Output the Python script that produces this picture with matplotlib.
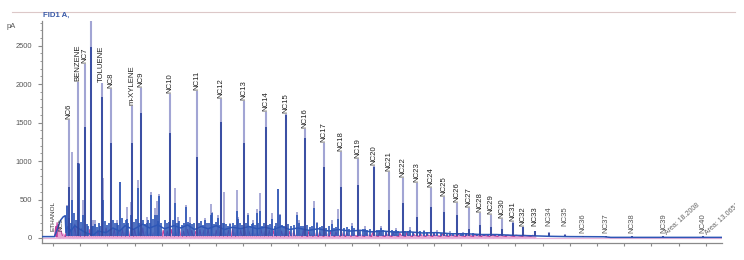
import matplotlib
matplotlib.use("Agg")
import matplotlib.pyplot as plt
from matplotlib.lines import Line2D
from matplotlib.transforms import Bbox
from matplotlib.ticker import MultipleLocator, NullFormatter

plt.rcParams["font.family"] = ["Liberation Sans", "DejaVu Sans"]

# ---------------- data (retention time in min, signal in pA) ----------------
peak_names = ["NC6", "BENZENE", "NC7", "", "TOLUENE", "NC8", "m-XYLENE", "NC9",
              "NC10", "NC11", "NC12", "NC13", "NC14", "NC15", "NC16", "NC17",
              "NC18", "NC19", "NC20", "NC21", "NC22", "NC23", "NC24", "NC25",
              "NC26", "NC27", "NC28", "NC29", "NC30", "NC31", "NC32", "NC33",
              "NC34", "NC35", "NC36", "NC37", "NC38", "NC39", "NC40"]
peak_t = [3.20, 3.82, 4.375, 4.77, 5.58, 6.26, 7.83, 8.49,
          10.60, 12.57, 14.35, 16.04, 17.64, 19.13, 20.55, 21.93,
          23.20, 24.40, 25.58, 26.68, 27.74, 28.79, 29.77, 30.75,
          31.68, 32.59, 33.40, 34.23, 35.01, 35.80, 36.58, 37.46,
          38.47, 39.65, 40.95, 42.64, 44.55, 46.88, 49.82]
peak_light = [1532, 2030, 2260, 2830, 2013, 1935, 1718, 1948,
              1870, 1913, 1805, 1783, 1640, 1610, 1415, 1230,
              1121, 1026, 935, 853, 783, 718, 645, 528,
              450, 385, 329, 299, 247, 212, 139, 95,
              78, 52, 22, 14, 12, 12, 12]
peak_dark = [667, 970, 1440, 2485, 1835, 1234, 1234, 1620,
             1360, 1056, 1511, 1230, 1446, 1600, 1295, 926,
             667, 688, 920, 364, 455, 277, 407, 342,
             299, 120, 169, 147, 113, 190, 139, 95,
             60, 40, 15, 10, 10, 10, 10]

# unlabeled peaks: (time, light height, dark height)
minor_peaks = [(3.05, 430, 420), (3.43, 1120, 500), (3.93, 970, 960), (4.23, 494, 300),
               (4.92, 234, 150), (5.09, 234, 180), (5.70, 780, 500), (6.68, 234, 200),
               (6.93, 731, 731), (7.42, 407, 250), (7.71, 472, 300), (8.27, 753, 645),
               (8.89, 277, 200), (9.21, 602, 560), (9.50, 390, 300), (9.62, 481, 300),
               (9.82, 567, 540), (10.97, 645, 455), (11.17, 277, 200), (11.78, 429, 400),
               (12.07, 277, 200), (13.18, 260, 230), (13.62, 442, 300), (13.71, 342, 330),
               (14.15, 299, 260), (14.60, 602, 200), (15.01, 195, 180), (15.51, 624, 351),
               (15.63, 273, 250), (16.36, 329, 300), (16.73, 234, 200), (17.02, 373, 330),
               (17.22, 589, 350), (18.12, 329, 250), (18.52, 636, 636), (18.69, 316, 300),
               (19.92, 334, 300), (20.09, 234, 200), (21.19, 485, 390), (21.39, 212, 200),
               (22.49, 234, 180), (22.99, 377, 250), (23.96, 195, 150), (24.94, 150, 120),
               (26.12, 160, 130), (27.22, 130, 100), (28.25, 140, 100), (29.28, 110, 90),
               (30.24, 100, 80), (31.19, 90, 70), (32.15, 80, 60)]

# blue baseline / noise band: (time, signal)
blue_trace = [(1.19, 18), (2.10, 18), (2.20, 60), (2.35, 130), (2.55, 230), (2.75, 275),
              (2.90, 290), (2.95, 70), (3.1, 150), (3.3, 90), (3.6, 160), (4.0, 110),
              (4.5, 60), (5.0, 40), (5.3, 90), (5.9, 70), (6.4, 130), (6.9, 90),
              (7.3, 160), (7.9, 110), (8.6, 180), (9.1, 130), (9.7, 170), (10.2, 120),
              (10.9, 160), (11.4, 130), (11.9, 170), (12.4, 110), (12.9, 150), (13.4, 120),
              (14.0, 160), (14.6, 110), (15.2, 140), (15.8, 120), (16.4, 150), (17.0, 120),
              (17.6, 140), (18.2, 110), (18.8, 150), (19.4, 110), (20.0, 130), (20.8, 100),
              (21.5, 120), (22.3, 90), (23.0, 110), (23.8, 90), (24.6, 100), (25.4, 80),
              (26.3, 90), (27.2, 75), (28.2, 80), (29.2, 65), (30.2, 70), (31.3, 55),
              (32.4, 55), (33.5, 45), (34.6, 45), (35.8, 35), (37.0, 30), (38.5, 22),
              (40.0, 18), (42.5, 16), (43.0, 8), (51.2, 8)]

# grass peaks on the blue trace: (time, height)
grass_peaks = [(3.15, 260), (3.30, 200), (3.55, 320), (3.70, 240), (4.05, 210), (4.50, 180),
               (4.60, 150), (4.85, 160), (5.20, 140), (5.35, 190), (5.45, 160), (5.80, 220),
               (5.95, 170), (6.10, 200), (6.40, 240), (6.55, 190), (6.80, 170), (7.05, 260),
               (7.20, 200), (7.35, 230), (7.55, 190), (7.95, 210), (8.10, 250), (8.35, 200),
               (8.60, 230), (8.75, 180), (9.00, 240), (9.10, 200), (9.35, 250), (9.70, 220),
               (9.95, 190), (10.20, 230), (10.35, 200), (10.50, 210), (10.80, 230), (11.05, 190),
               (11.30, 220), (11.45, 170), (11.60, 200), (11.90, 210), (12.20, 180), (12.35, 200),
               (12.75, 190), (12.90, 220), (13.05, 170), (13.30, 200), (13.45, 190), (13.85, 180),
               (14.00, 210), (14.25, 170), (14.50, 200), (14.75, 180), (14.90, 160), (15.20, 190),
               (15.35, 170), (15.75, 200), (15.90, 170), (16.20, 190), (16.50, 160), (16.60, 180),
               (16.85, 170), (17.10, 200), (17.35, 160), (17.50, 190), (17.80, 170), (17.95, 180),
               (18.30, 160), (18.40, 190), (18.85, 170), (19.00, 160), (19.30, 180), (19.50, 150),
               (19.70, 170), (20.25, 160), (20.40, 150), (20.70, 170), (20.90, 140), (21.05, 150),
               (21.60, 140), (21.75, 160), (22.10, 130), (22.30, 150), (22.65, 130), (22.80, 140),
               (23.40, 130), (23.60, 140), (23.80, 120), (24.15, 130), (24.60, 110), (24.80, 120),
               (25.10, 110), (25.30, 120), (25.80, 100), (26.00, 110), (26.30, 100), (26.50, 95),
               (26.90, 100), (27.10, 90), (27.40, 95), (27.90, 85), (28.10, 90), (28.50, 80),
               (29.00, 85), (29.50, 75), (30.00, 80), (30.50, 70), (31.00, 70), (31.40, 65),
               (32.00, 65), (32.40, 60), (32.90, 60), (33.20, 55), (33.70, 55), (34.00, 50),
               (34.50, 50), (34.80, 45), (35.30, 45), (35.60, 40), (36.10, 40), (36.40, 38),
               (36.90, 35), (37.20, 32), (37.80, 30)]

# second (magenta) trace: (time, height)
pink_peaks = [(2.20, 150), (2.30, 200), (2.40, 170), (2.60, 90), (3.00, 130), (3.30, 110),
              (3.60, 180), (3.90, 140), (4.10, 120), (4.40, 90), (4.70, 110), (5.00, 80),
              (5.30, 100), (5.60, 90), (5.90, 130), (6.20, 100), (6.50, 120), (6.80, 90),
              (7.10, 110), (7.40, 140), (7.70, 100), (8.00, 120), (8.30, 90), (8.60, 130),
              (8.90, 100), (9.20, 110), (9.50, 90), (9.80, 120), (10.10, 100), (10.40, 90),
              (10.70, 110), (11.00, 100), (11.30, 120), (11.60, 90), (11.90, 110), (12.20, 100),
              (12.50, 90), (12.80, 110), (13.10, 100), (13.40, 120), (13.70, 90), (14.00, 100),
              (14.30, 110), (14.60, 90), (14.90, 100), (15.20, 120), (15.50, 90), (15.80, 100),
              (16.10, 110), (16.40, 90), (16.70, 100), (17.00, 95), (17.30, 110), (17.60, 90),
              (17.90, 100), (18.20, 95), (18.50, 105), (18.80, 90), (19.10, 100), (19.40, 85),
              (19.70, 95), (20.00, 90), (20.40, 100), (20.80, 85), (21.20, 95), (21.60, 80),
              (22.00, 90), (22.40, 85), (22.80, 80), (23.20, 90), (23.60, 75), (24.00, 85),
              (24.50, 75), (25.00, 80), (25.50, 70), (26.00, 75), (26.50, 70), (27.00, 72),
              (27.50, 65), (28.00, 70), (28.50, 62), (29.00, 65), (29.50, 60), (30.00, 62),
              (30.60, 55), (31.20, 58), (31.80, 52), (32.40, 50), (33.00, 48), (33.60, 45),
              (34.20, 42), (34.80, 40), (35.40, 36), (36.00, 34), (36.60, 30), (37.20, 26)]

early_labels = ["ETHANOL", "NC5"]
early_label_t = [2.02, 2.62]

area_texts = ["Area: 18.2008", "Area: 13.0651"]
area_peaks = ["NC39", "NC40"]

# ---------------- figure ----------------
W, H = 744, 260
fig = plt.figure(figsize=(W / 100, H / 100), dpi=100)
ax = fig.add_axes([42 / W, 17 / H, 680 / W, 222 / H])
ax.set_xlim(1.19, 51.19)
ax.set_ylim(-65, 2820)

light_c = "#a2a5d4"
dark_c = "#32479f"
band_c = "#2d56b6"
pink_light = "#e6a6d4"
pink_dark = "#c03c98"

# magenta trace
pt = [p[0] for p in pink_peaks]
ph = [p[1] for p in pink_peaks]
ax.fill_between([2.15, 37.5], [5, 5], [55, 35], color=pink_light, lw=0, zorder=1)
zx, zy = [], []
for t, h in pink_peaks:
    zx += [t - 0.08, t, t + 0.08]
    zy += [20, h, 35]
ax.plot(zx, zy, color=pink_dark, lw=0.8, zorder=2)
ax.vlines([t + 0.14 for t in pt], 5, [h * 0.7 for h in ph], color=pink_light, lw=1.0, zorder=2)
ax.plot([1.19, 51.19], [2, 2], color="#e9b5da", lw=0.9, zorder=1)

# blue trace band
bt = [p[0] for p in blue_trace]
bv = [p[1] for p in blue_trace]
ax.plot(bt, bv, color=band_c, lw=1.1, zorder=4)
gt = [p[0] for p in grass_peaks]
gh = [p[1] for p in grass_peaks]
ax.vlines(gt, 30, gh, color=band_c, lw=1.2, zorder=4)

# minor peaks
mt = [p[0] for p in minor_peaks]
ml = [p[1] for p in minor_peaks]
md = [p[2] for p in minor_peaks]
ax.vlines(mt, 30, ml, color=light_c, lw=1.3, zorder=3)
ax.vlines(mt, 30, md, color=band_c, lw=1.2, zorder=4)

# named peaks
ax.vlines(peak_t, 20, peak_light, color=light_c, lw=1.5, zorder=3)
ax.vlines(peak_t, 20, peak_dark, color=dark_c, lw=1.3, zorder=5)

for name, t, h in zip(peak_names, peak_t, peak_light):
    if not name:
        continue
    floor = 150 if t < 40 else 70
    y = max(h + 15, floor)
    ax.text(t, y, name, rotation=90, ha="center", va="bottom", fontsize=5.6,
            color="#222222" if t < 38 else "#555555", zorder=6)

for name, t in zip(early_labels, early_label_t):
    ax.text(t, 90, name, rotation=90, ha="center", va="bottom", fontsize=4.6,
            color="#333333", zorder=6)

clip = Bbox([[0, 0], [735, 260]])
for txt, pk in zip(area_texts, area_peaks):
    t = peak_t[peak_names.index(pk)]
    tx = ax.text(t + 0.35, 20, txt, rotation=42, ha="left", va="bottom", fontsize=5,
                 color="#666666", rotation_mode="anchor", zorder=6)
    tx.set_clip_box(clip)
    tx.set_clip_on(True)

# axes styling
for s in ["top", "right"]:
    ax.spines[s].set_visible(False)
ax.spines["left"].set_color("#8a8a8a")
ax.spines["bottom"].set_color("#8a8a8a")
ax.spines["left"].set_linewidth(0.9)
ax.spines["bottom"].set_linewidth(0.9)
ax.set_yticks([0, 500, 1000, 1500, 2000, 2500])
ax.yaxis.set_minor_locator(MultipleLocator(100))
ax.set_xticks(list(range(2, 51, 2)))
ax.xaxis.set_major_formatter(NullFormatter())
ax.tick_params(axis="y", which="major", length=3, width=0.8, color="#8a8a8a",
               labelsize=5.4, labelcolor="#555555", pad=4)
ax.tick_params(axis="y", which="minor", length=1.8, width=0.6, color="#8a8a8a")
ax.tick_params(axis="x", which="major", length=2.5, width=0.8, color="#8a8a8a")

ax.text(-0.045, 0.975, "pA", transform=ax.transAxes, fontsize=5.4, color="#555555",
        ha="center", va="center")
fig.text(43 / W, 1 - 15 / H, "FID1 A,", fontsize=5.6, color="#3a5aa8",
         fontweight="bold", ha="left", va="center")
fig.add_artist(Line2D([12 / W, 735 / W], [1 - 12 / H, 1 - 12 / H],
                      color="#dcc8c8", lw=0.8))

fig.savefig("out.png", dpi=100)
